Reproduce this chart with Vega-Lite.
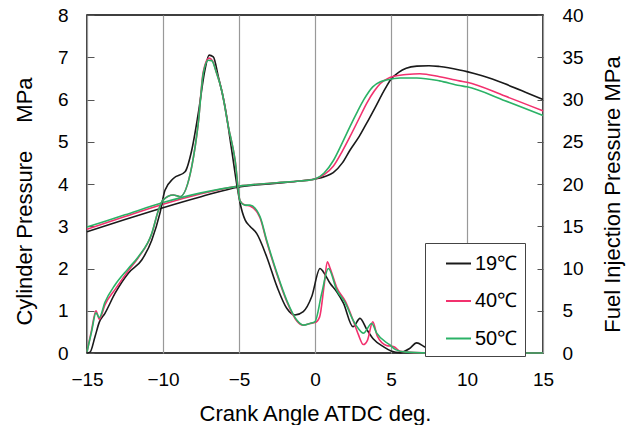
{
  "$schema": "https://vega.github.io/schema/vega-lite/v6.json",
  "width": 456,
  "height": 338,
  "autosize": {"type": "none"},
  "padding": {"left": 87, "top": 15, "right": 90, "bottom": 72},
  "config": {
    "font": "Liberation Sans",
    "view": {"stroke": "#000", "strokeWidth": 1.5},
    "axis": {
      "labelFontSize": 19,
      "labelColor": "#000",
      "titleFontSize": 22,
      "titleFontWeight": "normal",
      "titleColor": "#000",
      "domain": false
    }
  },
  "datasets": {
    "cyl": [
      {"a": -15, "t": "19℃", "p": 2.87}, {"a": -12.5, "t": "19℃", "p": 3.16}, {"a": -10, "t": "19℃", "p": 3.44}, {"a": -7.5, "t": "19℃", "p": 3.70}, {"a": -5, "t": "19℃", "p": 3.93}, {"a": -2.5, "t": "19℃", "p": 4.02}, {"a": -1, "t": "19℃", "p": 4.07}, {"a": 0, "t": "19℃", "p": 4.12}, {"a": 0.66, "t": "19℃", "p": 4.18}, {"a": 1.2, "t": "19℃", "p": 4.27}, {"a": 1.8, "t": "19℃", "p": 4.5}, {"a": 2.3, "t": "19℃", "p": 4.80}, {"a": 2.9, "t": "19℃", "p": 5.12}, {"a": 3.4, "t": "19℃", "p": 5.44}, {"a": 4.0, "t": "19℃", "p": 5.84}, {"a": 4.5, "t": "19℃", "p": 6.18}, {"a": 5.0, "t": "19℃", "p": 6.48}, {"a": 5.5, "t": "19℃", "p": 6.64}, {"a": 6.0, "t": "19℃", "p": 6.74}, {"a": 6.7, "t": "19℃", "p": 6.79}, {"a": 7.5, "t": "19℃", "p": 6.80}, {"a": 8.2, "t": "19℃", "p": 6.78}, {"a": 9.5, "t": "19℃", "p": 6.70}, {"a": 10, "t": "19℃", "p": 6.66}, {"a": 11, "t": "19℃", "p": 6.56}, {"a": 12.5, "t": "19℃", "p": 6.37}, {"a": 14, "t": "19℃", "p": 6.15}, {"a": 15, "t": "19℃", "p": 6.0},
      {"a": -15, "t": "40℃", "p": 2.93}, {"a": -12.5, "t": "40℃", "p": 3.23}, {"a": -10, "t": "40℃", "p": 3.52}, {"a": -7.5, "t": "40℃", "p": 3.77}, {"a": -5, "t": "40℃", "p": 3.95}, {"a": -2.5, "t": "40℃", "p": 4.03}, {"a": -1, "t": "40℃", "p": 4.07}, {"a": 0, "t": "40℃", "p": 4.12}, {"a": 0.6, "t": "40℃", "p": 4.22}, {"a": 1.2, "t": "40℃", "p": 4.42}, {"a": 1.8, "t": "40℃", "p": 4.78}, {"a": 2.3, "t": "40℃", "p": 5.12}, {"a": 2.9, "t": "40℃", "p": 5.55}, {"a": 3.4, "t": "40℃", "p": 5.91}, {"a": 3.9, "t": "40℃", "p": 6.2}, {"a": 4.3, "t": "40℃", "p": 6.38}, {"a": 4.8, "t": "40℃", "p": 6.5}, {"a": 5.2, "t": "40℃", "p": 6.55}, {"a": 6.0, "t": "40℃", "p": 6.59}, {"a": 6.9, "t": "40℃", "p": 6.61}, {"a": 8.2, "t": "40℃", "p": 6.54}, {"a": 9.5, "t": "40℃", "p": 6.44}, {"a": 10, "t": "40℃", "p": 6.41}, {"a": 12.5, "t": "40℃", "p": 6.08}, {"a": 15, "t": "40℃", "p": 5.73},
      {"a": -15, "t": "50℃", "p": 2.98}, {"a": -12.5, "t": "50℃", "p": 3.27}, {"a": -10, "t": "50℃", "p": 3.56}, {"a": -7.5, "t": "50℃", "p": 3.79}, {"a": -5, "t": "50℃", "p": 3.95}, {"a": -2.5, "t": "50℃", "p": 4.03}, {"a": -1, "t": "50℃", "p": 4.07}, {"a": 0, "t": "50℃", "p": 4.12}, {"a": 0.6, "t": "50℃", "p": 4.26}, {"a": 1.2, "t": "50℃", "p": 4.55}, {"a": 1.8, "t": "50℃", "p": 4.98}, {"a": 2.3, "t": "50℃", "p": 5.36}, {"a": 2.8, "t": "50℃", "p": 5.72}, {"a": 3.2, "t": "50℃", "p": 5.99}, {"a": 3.8, "t": "50℃", "p": 6.30}, {"a": 4.3, "t": "50℃", "p": 6.42}, {"a": 4.7, "t": "50℃", "p": 6.46}, {"a": 5.6, "t": "50℃", "p": 6.51}, {"a": 6.7, "t": "50℃", "p": 6.51}, {"a": 8.2, "t": "50℃", "p": 6.44}, {"a": 9.5, "t": "50℃", "p": 6.33}, {"a": 10, "t": "50℃", "p": 6.30}, {"a": 12.5, "t": "50℃", "p": 5.97}, {"a": 15, "t": "50℃", "p": 5.62}
    ],
    "inj": [
      {"a": -15, "t": "19℃", "p": 0}, {"a": -14.8, "t": "19℃", "p": 0.1}, {"a": -14.47, "t": "19℃", "p": 1.95}, {"a": -14.19, "t": "19℃", "p": 3.65}, {"a": -13.82, "t": "19℃", "p": 4.7}, {"a": -13.16, "t": "19℃", "p": 7.05}, {"a": -12.28, "t": "19℃", "p": 9.45}, {"a": -11.4, "t": "19℃", "p": 11.0}, {"a": -10.74, "t": "19℃", "p": 13.35}, {"a": -10.2, "t": "19℃", "p": 16.55}, {"a": -9.87, "t": "19℃", "p": 19.25}, {"a": -9.32, "t": "19℃", "p": 20.65}, {"a": -8.55, "t": "19℃", "p": 21.45}, {"a": -8.11, "t": "19℃", "p": 24.0}, {"a": -7.68, "t": "19℃", "p": 28.35}, {"a": -7.24, "t": "19℃", "p": 33.5}, {"a": -6.97, "t": "19℃", "p": 35.25}, {"a": -6.69, "t": "19℃", "p": 35.05}, {"a": -6.36, "t": "19℃", "p": 32.7}, {"a": -5.92, "t": "19℃", "p": 29.15}, {"a": -5.48, "t": "19℃", "p": 24.0}, {"a": -5.15, "t": "19℃", "p": 20.0}, {"a": -4.93, "t": "19℃", "p": 17.75}, {"a": -4.6, "t": "19℃", "p": 15.75}, {"a": -4.28, "t": "19℃", "p": 15.0}, {"a": -3.84, "t": "19℃", "p": 14.15}, {"a": -3.18, "t": "19℃", "p": 11.4}, {"a": -2.5, "t": "19℃", "p": 7.85}, {"a": -1.86, "t": "19℃", "p": 5.3}, {"a": -1.32, "t": "19℃", "p": 4.5}, {"a": -0.77, "t": "19℃", "p": 4.9}, {"a": -0.22, "t": "19℃", "p": 6.65}, {"a": 0.33, "t": "19℃", "p": 10.0}, {"a": 0.55, "t": "19℃", "p": 9.6}, {"a": 0.99, "t": "19℃", "p": 8.25}, {"a": 1.43, "t": "19℃", "p": 7.25}, {"a": 1.87, "t": "19℃", "p": 5.9}, {"a": 2.5, "t": "19℃", "p": 3.1}, {"a": 2.96, "t": "19℃", "p": 4.1}, {"a": 3.4, "t": "19℃", "p": 2.8}, {"a": 3.84, "t": "19℃", "p": 1.65}, {"a": 4.5, "t": "19℃", "p": 0.75}, {"a": 5.0, "t": "19℃", "p": 0.25}, {"a": 5.6, "t": "19℃", "p": 0.05}, {"a": 6.2, "t": "19℃", "p": 0.5}, {"a": 6.69, "t": "19℃", "p": 1.2}, {"a": 7.2, "t": "19℃", "p": 0.75}, {"a": 8, "t": "19℃", "p": 0.1}, {"a": 10, "t": "19℃", "p": 0}, {"a": 15, "t": "19℃", "p": 0},
      {"a": -15, "t": "40℃", "p": 0.15}, {"a": -14.7, "t": "40℃", "p": 2.7}, {"a": -14.41, "t": "40℃", "p": 5.0}, {"a": -14.19, "t": "40℃", "p": 4.0}, {"a": -13.82, "t": "40℃", "p": 5.7}, {"a": -13.16, "t": "40℃", "p": 7.5}, {"a": -12.28, "t": "40℃", "p": 9.75}, {"a": -11.62, "t": "40℃", "p": 11.3}, {"a": -10.74, "t": "40℃", "p": 14.1}, {"a": -10.3, "t": "40℃", "p": 16.9}, {"a": -10, "t": "40℃", "p": 18.1}, {"a": -9.32, "t": "40℃", "p": 18.7}, {"a": -8.88, "t": "40℃", "p": 18.5}, {"a": -8.11, "t": "40℃", "p": 22.05}, {"a": -7.68, "t": "40℃", "p": 27.2}, {"a": -7.35, "t": "40℃", "p": 33.3}, {"a": -6.97, "t": "40℃", "p": 34.9}, {"a": -6.75, "t": "40℃", "p": 34.6}, {"a": -6.47, "t": "40℃", "p": 33.1}, {"a": -6.14, "t": "40℃", "p": 31.1}, {"a": -5.7, "t": "40℃", "p": 26.8}, {"a": -5.26, "t": "40℃", "p": 22.85}, {"a": -4.93, "t": "40℃", "p": 18.0}, {"a": -4.6, "t": "40℃", "p": 17.5}, {"a": -4.28, "t": "40℃", "p": 17.4}, {"a": -3.62, "t": "40℃", "p": 16.0}, {"a": -3.18, "t": "40℃", "p": 13.2}, {"a": -2.5, "t": "40℃", "p": 9.3}, {"a": -1.86, "t": "40℃", "p": 6.1}, {"a": -1.2, "t": "40℃", "p": 3.8}, {"a": -0.77, "t": "40℃", "p": 3.3}, {"a": -0.33, "t": "40℃", "p": 3.5}, {"a": 0, "t": "40℃", "p": 3.6}, {"a": 0.3, "t": "40℃", "p": 4.25}, {"a": 0.6, "t": "40℃", "p": 8.0}, {"a": 0.81, "t": "40℃", "p": 10.8}, {"a": 1.0, "t": "40℃", "p": 10.0}, {"a": 1.43, "t": "40℃", "p": 7.75}, {"a": 2.0, "t": "40℃", "p": 6.1}, {"a": 2.5, "t": "40℃", "p": 3.9}, {"a": 2.85, "t": "40℃", "p": 2.2}, {"a": 3.18, "t": "40℃", "p": 1.0}, {"a": 3.45, "t": "40℃", "p": 1.5}, {"a": 3.8, "t": "40℃", "p": 3.7}, {"a": 4.1, "t": "40℃", "p": 2.0}, {"a": 4.7, "t": "40℃", "p": 0.9}, {"a": 5.2, "t": "40℃", "p": 0.75}, {"a": 5.6, "t": "40℃", "p": 0.2}, {"a": 6.5, "t": "40℃", "p": 0.05}, {"a": 8, "t": "40℃", "p": 0}, {"a": 15, "t": "40℃", "p": 0},
      {"a": -15, "t": "50℃", "p": 0.15}, {"a": -14.7, "t": "50℃", "p": 2.5}, {"a": -14.41, "t": "50℃", "p": 4.75}, {"a": -14.19, "t": "50℃", "p": 4.2}, {"a": -13.82, "t": "50℃", "p": 6.0}, {"a": -13.16, "t": "50℃", "p": 8.05}, {"a": -12.28, "t": "50℃", "p": 10.0}, {"a": -11.62, "t": "50℃", "p": 11.4}, {"a": -10.74, "t": "50℃", "p": 14.15}, {"a": -10.3, "t": "50℃", "p": 16.9}, {"a": -10, "t": "50℃", "p": 18.1}, {"a": -9.32, "t": "50℃", "p": 18.7}, {"a": -8.88, "t": "50℃", "p": 18.5}, {"a": -8.11, "t": "50℃", "p": 22.05}, {"a": -7.68, "t": "50℃", "p": 27.2}, {"a": -7.35, "t": "50℃", "p": 33.1}, {"a": -7.02, "t": "50℃", "p": 34.65}, {"a": -6.8, "t": "50℃", "p": 34.6}, {"a": -6.47, "t": "50℃", "p": 33.1}, {"a": -6.14, "t": "50℃", "p": 31.1}, {"a": -5.7, "t": "50℃", "p": 26.8}, {"a": -5.26, "t": "50℃", "p": 22.85}, {"a": -4.93, "t": "50℃", "p": 18.0}, {"a": -4.6, "t": "50℃", "p": 17.5}, {"a": -4.28, "t": "50℃", "p": 17.5}, {"a": -3.62, "t": "50℃", "p": 16.15}, {"a": -3.18, "t": "50℃", "p": 13.35}, {"a": -2.5, "t": "50℃", "p": 9.45}, {"a": -1.86, "t": "50℃", "p": 6.25}, {"a": -1.2, "t": "50℃", "p": 3.9}, {"a": -0.77, "t": "50℃", "p": 3.3}, {"a": -0.33, "t": "50℃", "p": 3.5}, {"a": 0, "t": "50℃", "p": 3.7}, {"a": 0.44, "t": "50℃", "p": 7.05}, {"a": 0.88, "t": "50℃", "p": 10.0}, {"a": 1.43, "t": "50℃", "p": 7.45}, {"a": 2.0, "t": "50℃", "p": 5.9}, {"a": 2.5, "t": "50℃", "p": 3.9}, {"a": 2.85, "t": "50℃", "p": 2.9}, {"a": 3.18, "t": "50℃", "p": 2.35}, {"a": 3.73, "t": "50℃", "p": 3.5}, {"a": 4.06, "t": "50℃", "p": 2.35}, {"a": 4.93, "t": "50℃", "p": 0.95}, {"a": 5.3, "t": "50℃", "p": 0.4}, {"a": 6, "t": "50℃", "p": 0.1}, {"a": 8, "t": "50℃", "p": 0}, {"a": 15, "t": "50℃", "p": 0}
    ]
  },
  "layer": [
    {
      "data": {"name": "cyl"},
      "mark": {"type": "line", "interpolate": "monotone", "strokeWidth": 1.6},
      "encoding": {
        "x": {
          "field": "a", "type": "quantitative",
          "scale": {"domain": [-15, 15], "nice": false},
          "axis": {
            "values": [-15, -10, -5, 0, 5, 10, 15],
            "grid": true, "gridColor": "#999", "gridWidth": 1.2, "gridOpacity": 1,
            "ticks": false, "labelPadding": 17, "labelFlush": false,
            "title": "Crank Angle ATDC deg.",
            "titleY": 60, "titleBaseline": "middle"
          }
        },
        "y": {
          "field": "p", "type": "quantitative",
          "scale": {"domain": [0, 8], "nice": false},
          "axis": {
            "values": [0, 1, 2, 3, 4, 5, 6, 7, 8],
            "grid": false, "ticks": true, "tickSize": -7, "tickColor": "#555",
            "labelPadding": 26,
            "title": "Cylinder Pressure \u2003MPa",
            "titleX": -63, "titleY": 186, "titleAngle": -90,
            "titleAlign": "center", "titleBaseline": "middle"
          }
        },
        "color": {
          "field": "t", "type": "nominal",
          "scale": {"domain": ["19℃", "40℃", "50℃"], "range": ["#1a1a1a", "#f2316e", "#2bb266"]},
          "legend": {
            "orient": "none", "legendX": 338, "legendY": 228,
            "title": null, "fillColor": "#fff", "strokeColor": "#444",
            "padding": 7, "symbolType": "stroke", "symbolSize": 625,
            "symbolStrokeWidth": 2, "symbolOffset": 13,
            "labelFontSize": 20, "labelOffset": 3, "rowPadding": 13.5,
            "labelColor": "#000"
          }
        }
      }
    },
    {
      "data": {"name": "inj"},
      "mark": {"type": "line", "interpolate": "monotone", "strokeWidth": 1.6},
      "encoding": {
        "x": {"field": "a", "type": "quantitative"},
        "y": {
          "field": "p", "type": "quantitative",
          "scale": {"domain": [0, 40], "nice": false},
          "axis": {
            "orient": "right",
            "values": [0, 5, 10, 15, 20, 25, 30, 35, 40],
            "grid": false, "ticks": true, "tickSize": -6, "tickColor": "#555",
            "labelPadding": 25,
            "title": "Fuel Injection Pressure MPa",
            "titleX": 69, "titleY": 179, "titleAngle": 270,
            "titleAlign": "center", "titleBaseline": "middle"
          }
        },
        "color": {"field": "t", "type": "nominal"}
      }
    }
  ],
  "resolve": {"scale": {"y": "independent"}}
}
